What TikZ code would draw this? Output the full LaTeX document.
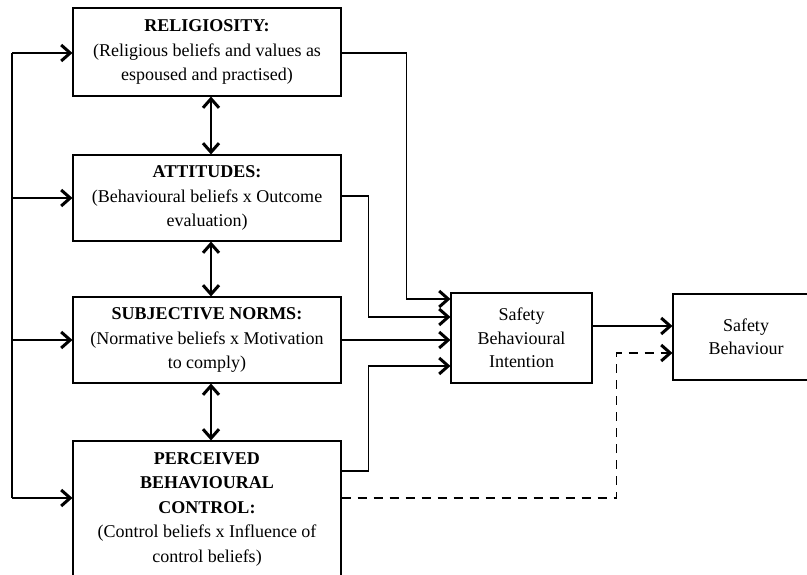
\documentclass[tikz,border=0pt]{standalone}
\usepackage{fontspec}
\setmainfont{Liberation Serif}
\usetikzlibrary{arrows.meta}
\begin{document}
\begin{tikzpicture}[x=1pt,y=1pt,
  box/.style={draw, line width=1.1pt, align=center, inner sep=0pt,
    font=\fontsize{18}{24.5}\selectfont},
  conn/.style={line width=1.2pt},
  tip/.style={-{Straight Barb[length=9pt,width=16pt,line width=3pt]}},
  dtip/.style={{Straight Barb[length=9pt,width=16pt,line width=3pt]}-{Straight Barb[length=9pt,width=16pt,line width=3pt]}},
  dashline/.style={dash pattern=on 9pt off 7pt}]
\path[use as bounding box, clip] (0,0) rectangle (807,574);
\fill[white] (0,0) rectangle (807,574);

\node[box, minimum width=268pt, minimum height=88pt] (rel) at (207,522)
  {\textbf{RELIGIOSITY:}\\(Religious beliefs and values as\\espoused and practised)};
\node[box, minimum width=268pt, minimum height=86pt] (att) at (207,376)
  {\textbf{ATTITUDES:}\\(Behavioural beliefs x Outcome\\evaluation)};
\node[box, minimum width=268pt, minimum height=86pt] (sub) at (207,234)
  {\textbf{SUBJECTIVE NORMS:}\\(Normative beliefs x Motivation\\to comply)};
\node[box, minimum width=268pt, minimum height=136pt] (per) at (207,65)
  {\textbf{PERCEIVED}\\\textbf{BEHAVIOURAL}\\\textbf{CONTROL:}\\(Control beliefs x Influence of\\control beliefs)};
\node[box, minimum width=141pt, minimum height=90pt, font=\fontsize{18}{23.5}\selectfont] (int) at (521.5,236)
  {Safety\\Behavioural\\Intention};
\node[box, minimum width=146pt, minimum height=86pt, font=\fontsize{18}{23.5}\selectfont] (beh) at (746,237)
  {Safety\\Behaviour};

% left spine
\coordinate (spt) at (12,521);
\coordinate (spb) at (12,76);
\draw[conn] (spt) -- (spb);
\draw[conn,tip] (spt) -- (rel.west |- spt);
\draw[conn,tip] (spt |- att.west) -- (att.west);
\draw[conn,tip] (spt |- sub.west) -- (sub.west);
\draw[conn,tip] (spb) -- (per.west |- spb);

% double arrows
\draw[conn,dtip] ([xshift=4pt]rel.south) -- ([xshift=4pt]att.north);
\draw[conn,dtip] ([xshift=4pt]att.south) -- ([xshift=4pt]sub.north);
\draw[conn,dtip] ([xshift=4pt]sub.south) -- ([xshift=4pt]per.north);

% to intention
\draw[conn,tip] ([yshift=-1pt]rel.east) -- ++(65,0) |- ([yshift=39pt]int.west);
\draw[conn,tip] ([yshift=2pt]att.east) -- ++(27,0) |- ([yshift=21pt]int.west);
\draw[conn,tip] (sub.east) -- (sub.east -| int.west);
\draw[conn,tip] ([yshift=38pt]per.east) -- ++(27,0) |- ([yshift=-28pt]int.west);

% to behaviour
\draw[conn,tip] ([yshift=12pt]int.east) -- ([yshift=12pt]int.east -| beh.west);
\draw[conn,tip,dashline] ([yshift=11pt]per.east) -- ++(275,0) |- ([yshift=-16pt]beh.west);
\end{tikzpicture}
\end{document}
